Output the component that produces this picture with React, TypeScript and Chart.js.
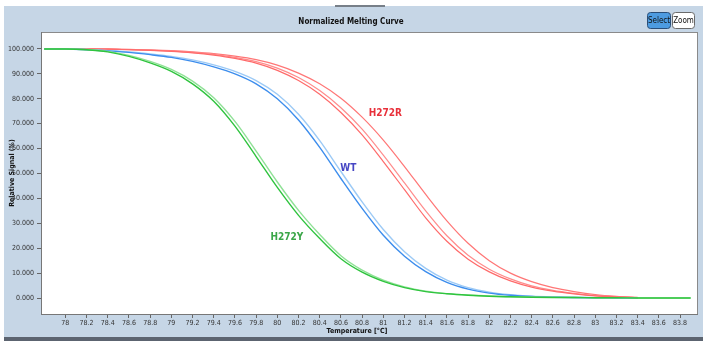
import { useEffect, useRef } from 'react';
import { Chart, registerables } from 'chart.js';

Chart.register(...registerables);

// Temperature points (°C)
const temps = [77.8, 78.0, 78.2, 78.4, 78.6, 78.8, 79.0, 79.2, 79.4, 79.6, 79.8, 80.0, 80.2, 80.4, 80.6, 80.8, 81.0, 81.2, 81.4, 81.6, 81.8, 82.0, 82.2, 82.4, 82.6, 82.8, 83.0, 83.2, 83.4, 83.6, 83.8, 83.9];

// H272Y replicates
const h272yA = [100, 100, 99.7, 98.8, 97.0, 94.4, 91.0, 86.0, 79.0, 69.0, 56.8, 44.4, 33.2, 23.9, 15.8, 10.4, 6.7, 4.2, 2.6, 1.7, 1.1, 0.7, 0.5, 0.35, 0.25, 0.2, 0.15, 0.1, 0.05, 0, 0, 0];
const h272yB = [100, 100, 99.8, 99.0, 97.4, 95.0, 91.8, 87.1, 80.4, 70.9, 59.0, 46.6, 35.2, 25.5, 17.0, 11.2, 7.2, 4.5, 2.8, 1.8, 1.2, 0.8, 0.55, 0.4, 0.3, 0.2, 0.15, 0.1, 0.05, 0, 0, 0];

// WT replicates
const wtA = [100, 100, 99.7, 99.2, 98.6, 97.7, 96.6, 95.0, 92.8, 90.0, 86.0, 80.0, 71.5, 60.5, 48.0, 36.0, 25.2, 16.8, 10.6, 6.3, 3.6, 2.0, 1.1, 0.6, 0.35, 0.2, 0.1, 0.05, 0, null, null, null];
const wtB = [100, 100, 99.8, 99.3, 98.8, 98.0, 97.0, 95.6, 93.6, 91.0, 87.3, 81.8, 73.8, 63.2, 50.8, 38.6, 27.5, 18.6, 11.9, 7.2, 4.2, 2.4, 1.3, 0.7, 0.4, 0.25, 0.12, 0.06, 0, null, null, null];

// H272R replicates
const h272rA = [100, 100, 100, 99.9, 99.7, 99.4, 99.0, 98.4, 97.5, 96.2, 94.3, 91.4, 87.3, 81.8, 74.5, 65.5, 54.8, 43.5, 32.2, 22.8, 15.6, 10.5, 6.9, 4.4, 2.8, 1.7, 0.9, 0.5, 0.2, null, null, null];
const h272rB = [100, 100, 100, 99.9, 99.7, 99.5, 99.1, 98.6, 97.8, 96.6, 94.9, 92.3, 88.5, 83.3, 76.4, 67.8, 57.4, 46.2, 35.0, 25.0, 17.2, 11.6, 7.7, 4.9, 3.1, 1.9, 1.0, 0.5, 0.2, null, null, null];
const h272rC = [100, 100, 100, 100, 99.8, 99.6, 99.3, 98.8, 98.1, 97.1, 95.7, 93.5, 90.3, 86.0, 80.2, 72.6, 63.4, 52.8, 41.6, 31.0, 22.0, 15.0, 10.0, 6.6, 4.2, 2.6, 1.4, 0.7, 0.3, null, null, null];

// Tick values
const xTicks = [78, 78.2, 78.4, 78.6, 78.8, 79, 79.2, 79.4, 79.6, 79.8, 80, 80.2, 80.4, 80.6, 80.8, 81, 81.2, 81.4, 81.6, 81.8, 82, 82.2, 82.4, 82.6, 82.8, 83, 83.2, 83.4, 83.6, 83.8];
const yTicks = [0, 10, 20, 30, 40, 50, 60, 70, 80, 90, 100];

// Curve labels (placed in data coordinates)
const curveLabels = [
  { text: 'H272R', x: 81.02, y: 74.3, color: '#e8303a' },
  { text: 'WT', x: 80.67, y: 52.2, color: '#4646c4' },
  { text: 'H272Y', x: 80.09, y: 24.5, color: '#3aa648' },
];

const FONT = '"Liberation Sans Narrow", "DejaVu Sans Condensed", Arial, sans-serif';

const toPts = (arr: (number | null)[]) => temps.map((t, i) => ({ x: t, y: arr[i] }));

export default function App() {
  const ref = useRef<HTMLCanvasElement | null>(null);

  useEffect(() => {
    document.body.style.margin = '0';
    const canvas = ref.current;
    if (!canvas) return;

    const bgPlugin = {
      id: 'bgPanel',
      beforeDraw(chart: any) {
        const { ctx, width, height, chartArea } = chart;
        ctx.save();
        ctx.fillStyle = '#ffffff';
        ctx.fillRect(0, 0, width, height);
        ctx.fillStyle = '#c6d6e6';
        ctx.fillRect(4, 6, width - 8, height - 10);
        ctx.fillStyle = '#5c6470';
        ctx.fillRect(4, height - 4, width - 8, 4);
        ctx.fillStyle = '#777f88';
        ctx.fillRect(335, 5, 50, 2);
        // plot area
        ctx.fillStyle = '#ffffff';
        ctx.fillRect(chartArea.left, chartArea.top, chartArea.right - chartArea.left, chartArea.bottom - chartArea.top);
        ctx.strokeStyle = '#8a8a8a';
        ctx.lineWidth = 1;
        ctx.strokeRect(chartArea.left + 0.5, chartArea.top + 0.5, chartArea.right - chartArea.left, chartArea.bottom - chartArea.top);
        // title
        ctx.fillStyle = '#111';
        ctx.font = 'bold 8px ' + FONT;
        ctx.textAlign = 'center';
        ctx.textBaseline = 'middle';
        ctx.fillText('Normalized Melting Curve', 351, 22);
        // buttons
        const rr = (x: number, y: number, w: number, h: number, r: number) => {
          ctx.beginPath();
          ctx.moveTo(x + r, y);
          ctx.lineTo(x + w - r, y);
          ctx.quadraticCurveTo(x + w, y, x + w, y + r);
          ctx.lineTo(x + w, y + h - r);
          ctx.quadraticCurveTo(x + w, y + h, x + w - r, y + h);
          ctx.lineTo(x + r, y + h);
          ctx.quadraticCurveTo(x, y + h, x, y + h - r);
          ctx.lineTo(x, y + r);
          ctx.quadraticCurveTo(x, y, x + r, y);
          ctx.closePath();
        };
        rr(647.5, 12.5, 23, 16, 3);
        ctx.fillStyle = '#4d9be0';
        ctx.fill();
        ctx.strokeStyle = '#2a4e78';
        ctx.stroke();
        rr(672.5, 12.5, 22, 16, 3);
        ctx.fillStyle = '#ffffff';
        ctx.fill();
        ctx.strokeStyle = '#6a6a6a';
        ctx.stroke();
        ctx.fillStyle = '#111';
        ctx.font = '8px ' + FONT;
        ctx.fillText('Select', 659, 21);
        ctx.fillText('Zoom', 683.5, 21);
        // axis titles
        ctx.font = 'bold 7px ' + FONT;
        ctx.fillText('Temperature [\u00B0C]', 357, 331);
        ctx.save();
        ctx.translate(12, 173);
        ctx.rotate(-Math.PI / 2);
        ctx.fillText('Relative Signal (%)', 0, 0);
        ctx.restore();
        ctx.restore();
      },
    };

    const labelPlugin = {
      id: 'curveLabels',
      afterDatasetsDraw(chart: any) {
        const { ctx, scales } = chart;
        ctx.save();
        ctx.font = 'bold 10px ' + FONT;
        ctx.textAlign = 'center';
        ctx.textBaseline = 'middle';
        curveLabels.forEach((l) => {
          ctx.fillStyle = l.color;
          ctx.fillText(l.text, scales.x.getPixelForValue(l.x), scales.y.getPixelForValue(l.y));
        });
        ctx.restore();
      },
    };

    const mk = (label: string, arr: (number | null)[], color: string, w: number) => ({
      label,
      data: toPts(arr),
      borderColor: color,
      backgroundColor: color,
      borderWidth: w,
      pointRadius: 0,
      fill: false,
      cubicInterpolationMode: 'monotone' as const,
      spanGaps: false,
    });

    const chart = new Chart(canvas, {
      type: 'line',
      data: {
        datasets: [
          mk('H272Y-1', h272yA, '#2fc43e', 1.4),
          mk('H272Y-2', h272yB, '#8fe196', 1.4),
          mk('WT-1', wtA, '#3c8ded', 1.4),
          mk('WT-2', wtB, '#9ccaf6', 1.4),
          mk('H272R-1', h272rA, '#ff6a6a', 1.2),
          mk('H272R-2', h272rB, '#ff8c8c', 1.2),
          mk('H272R-3', h272rC, '#ff7676', 1.2),
        ],
      },
      options: {
        animation: false,
        responsive: false,
        maintainAspectRatio: false,
        layout: { padding: { left: 0, top: 32, right: 10, bottom: 0 } },
        plugins: {
          legend: { display: false },
          title: { display: false },
          tooltip: { enabled: false },
        },
        scales: {
          x: {
            type: 'linear',
            min: 77.77,
            max: 83.96,
            afterFit: (s: any) => { s.height = 27; },
            afterBuildTicks: (s: any) => { s.ticks = xTicks.map((v) => ({ value: v })); },
            grid: { drawOnChartArea: false, drawTicks: true, tickLength: 4, color: '#666' },
            border: { display: true, color: '#777' },
            ticks: {
              autoSkip: false,
              maxRotation: 0,
              padding: 1,
              color: '#333',
              font: { family: FONT, size: 7 },
              callback: (v: any) => String(Number(v)),
            },
          },
          y: {
            type: 'linear',
            min: -6.4,
            max: 106.8,
            afterFit: (s: any) => { s.width = 41; },
            afterBuildTicks: (s: any) => { s.ticks = yTicks.map((v) => ({ value: v })); },
            grid: { drawOnChartArea: false, drawTicks: true, tickLength: 4, color: '#666' },
            border: { display: true, color: '#777' },
            ticks: {
              padding: 3,
              color: '#333',
              font: { family: FONT, size: 7 },
              callback: (v: any) => Number(v).toFixed(3),
            },
          },
        },
      },
      plugins: [bgPlugin, labelPlugin],
    });

    return () => chart.destroy();
  }, []);

  return <canvas ref={ref} width={707} height={341} style={{ display: 'block' }} />;
}
